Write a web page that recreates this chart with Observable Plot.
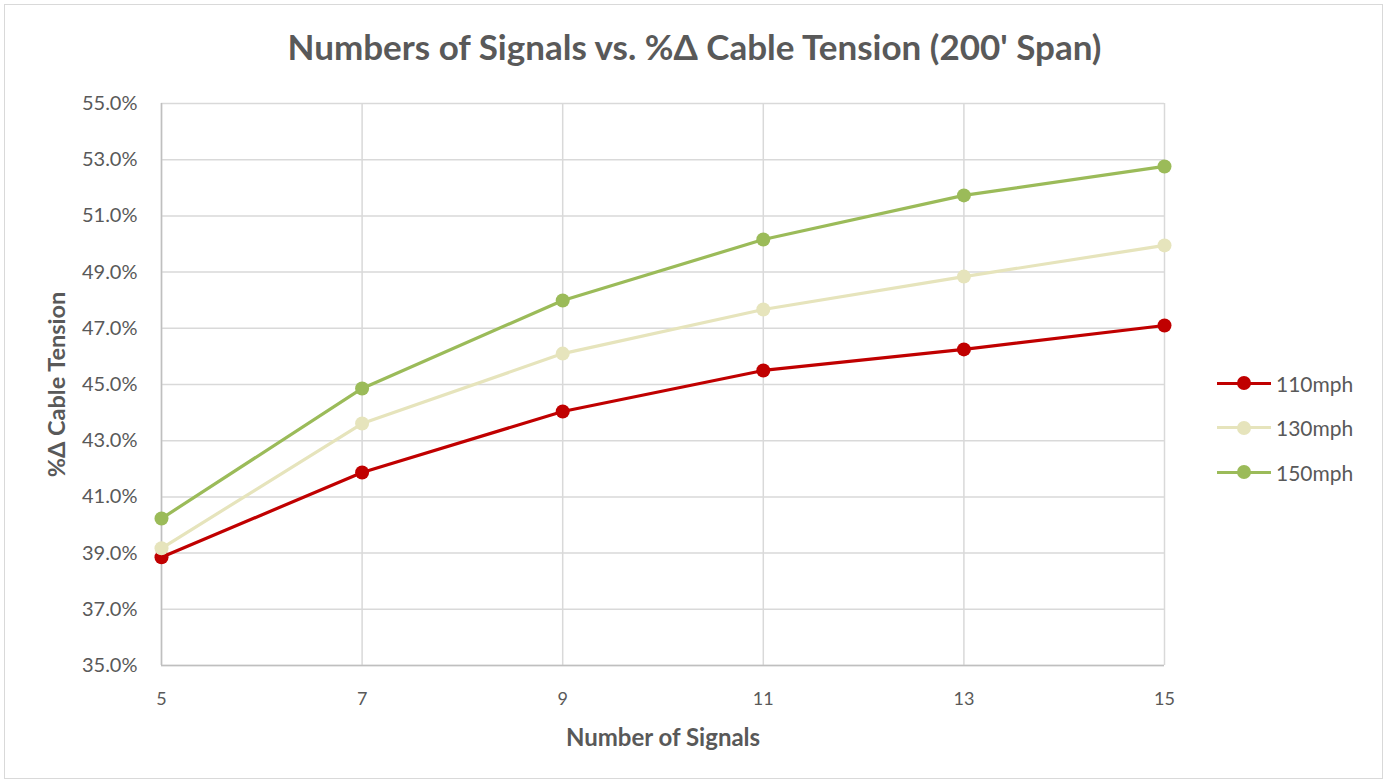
<!DOCTYPE html>
<html>
<head>
<meta charset="utf-8">
<script src="https://cdn.jsdelivr.net/npm/d3@7"></script>
<script src="https://cdn.jsdelivr.net/npm/@observablehq/plot@0.6"></script>
<style>
  html, body { margin: 0; padding: 0; background: #fff; }
  #wrap { position: relative; width: 1389px; height: 783px; font-family: Lato, "Open Sans", sans-serif; }
  #frame { position: absolute; left: 4px; top: 4px; width: 1379px; height: 775px; border: 1px solid #d9d9d9; box-sizing: border-box; pointer-events: none; }
  #title { position: absolute; left: 0; width: 1389px; top: 25px; text-align: center; font-size: 35px; font-weight: bold; color: #595959; }
  #chart { position: absolute; left: 0; top: 0; }
  #legend { position: absolute; left: 1217px; top: 361px; font-size: 21px; color: #595959; }
  .item { display: flex; align-items: center; height: 44.5px; }
  .sw { position: relative; width: 54px; height: 14px; margin-right: 5px; }
  .sw .ln { position: absolute; left: 0; top: 5.5px; width: 54px; height: 3px; }
  .sw .dt { position: absolute; left: 20px; top: 0; width: 14px; height: 14px; border-radius: 50%; }
</style>
</head>
<body>
<div id="wrap">
  <div id="title"></div>
  <div id="chart"></div>
  <div id="legend"></div>
  <div id="frame"></div>
</div>
<script>
const titleText = "Numbers of Signals vs. %Δ Cable Tension (200' Span)";
const xLabel = "Number of Signals";
const yLabel = "%Δ Cable Tension";
const signals = [5, 7, 9, 11, 13, 15];
const seriesNames = ["110mph", "130mph", "150mph"];
const seriesColors = ["#C00000", "#E6E4BC", "#9BBB59"];
const v110 = [38.85, 41.87, 44.04, 45.50, 46.25, 47.10];
const v130 = [39.17, 43.61, 46.10, 47.67, 48.84, 49.95];
const v150 = [40.23, 44.86, 47.99, 50.16, 51.73, 52.76];
const yTicks = [35, 37, 39, 41, 43, 45, 47, 49, 51, 53, 55];

const seriesValues = [v110, v130, v150];
const data = [];
seriesNames.forEach((s, i) => {
  signals.forEach((x, j) => data.push({series: s, x, y: seriesValues[i][j]}));
});

document.getElementById("title").textContent = titleText;

const chart = Plot.plot({
  width: 1389,
  height: 783,
  marginLeft: 161,
  marginRight: 225,
  marginTop: 103,
  marginBottom: 118,
  style: {color: "#595959", fontFamily: "Lato, 'Open Sans', sans-serif", background: "transparent"},
  x: {domain: [5, 15]},
  y: {domain: [35, 55]},
  color: {domain: seriesNames, range: seriesColors},
  marks: [
    Plot.gridY(yTicks, {stroke: "#d9d9d9", strokeOpacity: 1, strokeWidth: 1.5}),
    Plot.gridX(signals, {stroke: "#d9d9d9", strokeOpacity: 1, strokeWidth: 1.5}),
    Plot.ruleX([5], {stroke: "#bfbfbf", strokeWidth: 1.5}),
    Plot.ruleY([35], {stroke: "#bfbfbf", strokeWidth: 1.5}),
    Plot.axisY({ticks: yTicks, tickSize: 0, tickPadding: 24, fontSize: 20, tickFormat: d => d.toFixed(1) + "%", label: null}),
    Plot.axisX({ticks: signals, tickSize: 0, tickPadding: 27, fontSize: 18, label: null}),
    Plot.line(data, {x: "x", y: "y", z: "series", stroke: "series", strokeWidth: 3.2}),
    Plot.dot(data, {x: "x", y: "y", fill: "series", r: 7, stroke: null}),
    Plot.text([yLabel], {frameAnchor: "left", dx: -104, rotate: -90, textAnchor: "middle", fontSize: 23.5, fontWeight: "bold", fill: "#595959"}),
    Plot.text([xLabel], {frameAnchor: "bottom", dy: 80, fontSize: 24, fontWeight: "bold", fill: "#595959"})
  ]
});
document.getElementById("chart").appendChild(chart);

const legend = document.getElementById("legend");
seriesNames.forEach((s, i) => {
  const item = document.createElement("div");
  item.className = "item";
  item.innerHTML = `<div class="sw"><div class="ln" style="background:${seriesColors[i]}"></div><div class="dt" style="background:${seriesColors[i]}"></div></div><span>${s}</span>`;
  legend.appendChild(item);
});
</script>
</body>
</html>
